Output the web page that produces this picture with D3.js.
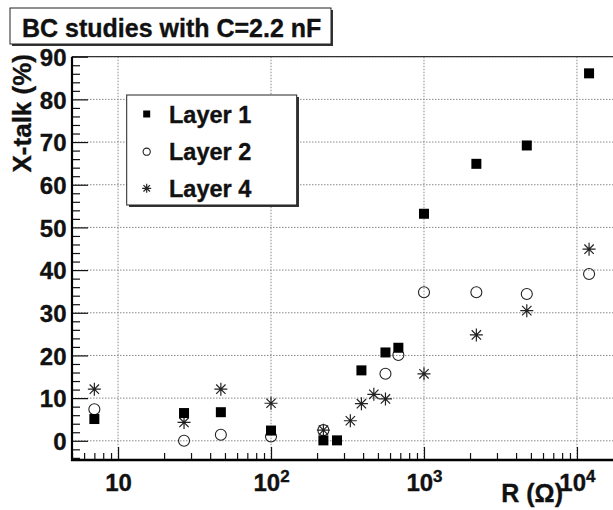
<!DOCTYPE html>
<html>
<head>
<meta charset="utf-8">
<script src="https://cdn.jsdelivr.net/npm/d3@7/dist/d3.min.js"></script>
<style>
  html, body { margin: 0; padding: 0; background: #fff; }
  svg { display: block; }
  text { font-family: "Liberation Sans", Arial, Helvetica, sans-serif; font-weight: bold; fill: #111;
         stroke: #111; stroke-width: 0.35px; }
</style>
</head>
<body>
<svg id="chart" width="613" height="510"></svg>
<script>
// Crosstalk vs. termination resistance, C = 2.2 nF
const layer1R = [7, 27, 47, 100, 220, 270, 390, 560, 680, 1000, 2200, 4700, 12000];
const layer1X = [5.1, 6.5, 6.7, 2.4, 0.1, 0.1, 16.5, 20.7, 21.8, 53.2, 64.9, 69.2, 86.1];

const layer2R = [7, 27, 47, 100, 220, 560, 680, 1000, 2200, 4700, 12000];
const layer2X = [7.4, 0.0, 1.4, 1.0, 2.5, 15.7, 20.1, 34.8, 34.8, 34.4, 39.1];

const layer4R = [7, 27, 47, 100, 220, 330, 390, 470, 560, 1000, 2200, 4700, 12000];
const layer4X = [12.1, 4.3, 12.1, 8.8, 2.5, 4.7, 8.7, 10.9, 9.8, 15.7, 24.8, 30.5, 44.9];

const seriesNames = ["Layer 1", "Layer 2", "Layer 4"];
const xMajorExp = [1, 2, 3, 4];
const yTicks = [0, 10, 20, 30, 40, 50, 60, 70, 80, 90];

const titleText = "BC studies with C=2.2 nF";
const yTitle = "X-talk (%)";
const xTitle = "R (\u03A9)";

const svg = d3.select("#chart");

const frame = { left: 72, right: 623, top: 56.7, bottom: 460 };

const x = d3.scaleLog().domain([5, 20000]).range([frame.left, frame.right]);
const y = d3.scaleLinear().domain([-4.5, 90]).range([frame.bottom, frame.top]);

// grid
const grid = svg.append("g").attr("stroke", "#8a8a8a").attr("stroke-width", 1)
  .attr("stroke-dasharray", "1.5,1.5");
grid.selectAll("line.gy").data(yTicks).join("line")
  .attr("x1", frame.left).attr("x2", frame.right)
  .attr("y1", d => y(d)).attr("y2", d => y(d));
grid.selectAll("line.gx").data(xMajorExp).join("line")
  .attr("x1", d => x(Math.pow(10, d))).attr("x2", d => x(Math.pow(10, d)))
  .attr("y1", frame.top).attr("y2", frame.bottom);

// top frame edge
svg.append("line").attr("x1", frame.left).attr("x2", frame.right)
  .attr("y1", frame.top).attr("y2", frame.top)
  .attr("stroke", "#333").attr("stroke-width", 1.2);

// x axis: minor ticks
const xMinor = [];
for (let e = 0; e <= 4; e++) {
  for (let m = 2; m <= 9; m++) {
    const v = m * Math.pow(10, e);
    if (v >= 5 && v <= 20000) xMinor.push(v);
  }
}
const xAxisMinor = d3.axisBottom(x).tickValues(xMinor).tickSize(-7).tickFormat("");
svg.append("g").attr("transform", `translate(0,${frame.bottom})`).call(xAxisMinor)
  .call(g => g.select(".domain").remove())
  .call(g => g.selectAll(".tick line").attr("stroke", "#111").attr("stroke-width", 1.2));

// x axis: major ticks with power-of-ten labels
const xAxisMajor = d3.axisBottom(x).tickValues(xMajorExp.map(e => Math.pow(10, e)))
  .tickSize(-13).tickPadding(0).tickFormat("");
const xg = svg.append("g").attr("transform", `translate(0,${frame.bottom})`).call(xAxisMajor)
  .call(g => g.select(".domain").remove())
  .call(g => g.selectAll(".tick line").attr("stroke", "#111").attr("stroke-width", 1.2));
xg.selectAll(".tick text").each(function(d) {
  const e = Math.round(Math.log10(d));
  const t = d3.select(this)
    .attr("y", 31).attr("dy", null)
    .attr("font-size", 24).attr("fill", "#111")
    .attr("font-family", "'Liberation Sans', Arial, sans-serif").attr("font-weight", "bold")
    .attr("text-anchor", "middle");
  t.text(null);
  t.append("tspan").text("10");
  if (e > 1) t.append("tspan").attr("dy", -9).attr("font-size", 17).text(e);
});

// y axis
const yMinor = d3.range(-4, 91, 2).filter(v => v % 10 !== 0);
svg.append("g").attr("transform", `translate(${frame.left},0)`)
  .call(d3.axisLeft(y).tickValues(yMinor).tickSize(-8).tickFormat(""))
  .call(g => g.select(".domain").remove())
  .call(g => g.selectAll(".tick line").attr("stroke", "#111").attr("stroke-width", 1.2));
svg.append("g").attr("transform", `translate(${frame.left},0)`)
  .call(d3.axisLeft(y).tickValues(yTicks).tickSize(-16).tickPadding(5.5).tickFormat(d3.format("d")))
  .call(g => g.select(".domain").remove())
  .call(g => g.selectAll(".tick line").attr("stroke", "#111").attr("stroke-width", 1.2))
  .call(g => g.selectAll(".tick text").attr("font-size", 24).attr("fill", "#111")
    .attr("font-family", "'Liberation Sans', Arial, sans-serif").attr("font-weight", "bold")
    .attr("dy", "0.36em"));

// axis lines
svg.append("line").attr("x1", frame.left).attr("x2", frame.left)
  .attr("y1", frame.top).attr("y2", frame.bottom + 1)
  .attr("stroke", "#000").attr("stroke-width", 2.2);
svg.append("line").attr("x1", frame.left - 1).attr("x2", frame.right)
  .attr("y1", frame.bottom).attr("y2", frame.bottom)
  .attr("stroke", "#000").attr("stroke-width", 2.4);

// axis titles
svg.append("text")
  .attr("transform", "translate(31,54) rotate(-90)")
  .attr("text-anchor", "end").attr("font-size", 26).text(yTitle);
svg.append("text")
  .attr("x", 563).attr("y", 501.5)
  .attr("text-anchor", "end").attr("font-size", 25).text(xTitle);

// marker shapes
function drawSquare(g, cx, cy, s) {
  g.append("rect").attr("x", cx - s / 2).attr("y", cy - s / 2)
    .attr("width", s).attr("height", s).attr("fill", "#000");
}
function drawCircle(g, cx, cy, r) {
  g.append("circle").attr("cx", cx).attr("cy", cy).attr("r", r)
    .attr("fill", "none").attr("stroke", "#222").attr("stroke-width", 1.1);
}
function drawStar(g, cx, cy, h) {
  const d = h * 0.72;
  const p = `M${cx - h},${cy}L${cx + h},${cy}M${cx},${cy - h}L${cx},${cy + h}` +
            `M${cx - d},${cy - d}L${cx + d},${cy + d}M${cx - d},${cy + d}L${cx + d},${cy - d}`;
  g.append("path").attr("d", p).attr("stroke", "#222").attr("stroke-width", 1.2).attr("fill", "none");
}

const marks = svg.append("g");
layer2R.forEach((r, i) => drawCircle(marks, x(r), y(layer2X[i]), 5.5));
layer4R.forEach((r, i) => drawStar(marks, x(r), y(layer4X[i]), 6.5));
layer1R.forEach((r, i) => drawSquare(marks, x(r), y(layer1X[i]), 10));

// legend
const lg = svg.append("g");
lg.append("rect").attr("x", 129).attr("y", 97).attr("width", 170).attr("height", 110).attr("fill", "#333");
lg.append("rect").attr("x", 126.7).attr("y", 95).attr("width", 170).attr("height", 110)
  .attr("fill", "#fff").attr("stroke", "#222").attr("stroke-width", 1);
const rowY = [114, 151.7, 188.3];
drawSquare(lg, 146.7, rowY[0], 7);
drawCircle(lg, 146.7, rowY[1], 3.6);
drawStar(lg, 146.7, rowY[2], 4.5);
lg.selectAll("text.lab").data(seriesNames).join("text")
  .attr("x", 169).attr("y", (d, i) => rowY[i] + 8.5)
  .attr("font-size", 23.5).text(d => d);

// title box
const tb = svg.append("g");
tb.append("rect").attr("x", 12).attr("y", 10).attr("width", 321).attr("height", 36).attr("fill", "#333");
tb.append("rect").attr("x", 10).attr("y", 8).attr("width", 321).attr("height", 36)
  .attr("fill", "#fff").attr("stroke", "#222").attr("stroke-width", 1);
tb.append("text").attr("x", 22).attr("y", 36.5).attr("font-size", 25).text(titleText);
</script>
</body>
</html>
